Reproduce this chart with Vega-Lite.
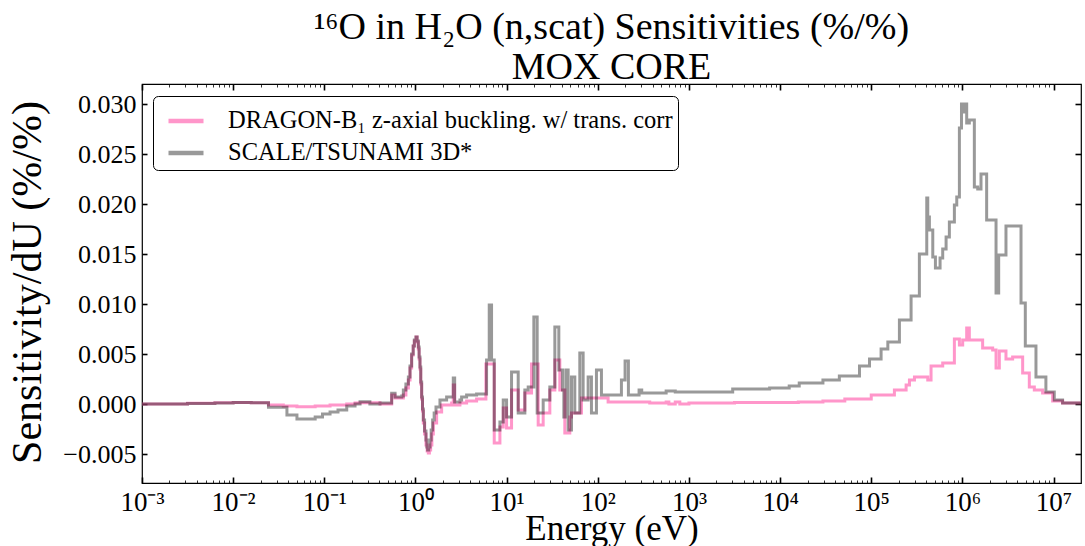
{
  "$schema": "https://vega.github.io/schema/vega-lite/v6.json",
  "width": 939,
  "height": 399,
  "autosize": {"type": "none"},
  "padding": {"left": 142, "top": 84, "right": 4, "bottom": 63},
  "background": "white",
  "config": {
    "view": {"stroke": "black", "strokeWidth": 1.2},
    "font": "Liberation Serif",
    "axis": {"grid": false, "domain": false, "labelColor": "black", "titleColor": "black", "tickColor": "black", "labelFont": "Liberation Serif", "titleFont": "Liberation Serif", "titleFontWeight": "normal"}
  },
  "title": {
    "text": ["¹⁶O in H₂O (n,scat) Sensitivities (%/%)", "MOX CORE"],
    "font": "Liberation Serif",
    "fontSize": 38,
    "fontWeight": "normal",
    "color": "black",
    "lineHeight": 40,
    "anchor": "middle",
    "frame": "group",
    "baseline": "alphabetic",
    "offset": 4,
    "dy": 38
  },
  "data": {"name": "sens"},
  "datasets": {
    "sens": [
      {"series": "DRAGON-B₁ z-axial buckling. w/ trans. corr", "E": 0.001, "S": 0},
      {"series": "DRAGON-B₁ z-axial buckling. w/ trans. corr", "E": 0.00316, "S": 0.00008},
      {"series": "DRAGON-B₁ z-axial buckling. w/ trans. corr", "E": 0.00631, "S": 0.00012},
      {"series": "DRAGON-B₁ z-axial buckling. w/ trans. corr", "E": 0.01, "S": 0.00015},
      {"series": "DRAGON-B₁ z-axial buckling. w/ trans. corr", "E": 0.0158, "S": 0.00012},
      {"series": "DRAGON-B₁ z-axial buckling. w/ trans. corr", "E": 0.0244, "S": -0.0001},
      {"series": "DRAGON-B₁ z-axial buckling. w/ trans. corr", "E": 0.0355, "S": -0.0002},
      {"series": "DRAGON-B₁ z-axial buckling. w/ trans. corr", "E": 0.0501, "S": -0.00027},
      {"series": "DRAGON-B₁ z-axial buckling. w/ trans. corr", "E": 0.0794, "S": -0.0002},
      {"series": "DRAGON-B₁ z-axial buckling. w/ trans. corr", "E": 0.1156, "S": -0.0001},
      {"series": "DRAGON-B₁ z-axial buckling. w/ trans. corr", "E": 0.1762, "S": 0},
      {"series": "DRAGON-B₁ z-axial buckling. w/ trans. corr", "E": 0.2173, "S": 0.0001},
      {"series": "DRAGON-B₁ z-axial buckling. w/ trans. corr", "E": 0.2466, "S": 0.00013},
      {"series": "DRAGON-B₁ z-axial buckling. w/ trans. corr", "E": 0.4083, "S": 0},
      {"series": "DRAGON-B₁ z-axial buckling. w/ trans. corr", "E": 0.5483, "S": 0.0009},
      {"series": "DRAGON-B₁ z-axial buckling. w/ trans. corr", "E": 0.597, "S": 0.0006},
      {"series": "DRAGON-B₁ z-axial buckling. w/ trans. corr", "E": 0.7362, "S": 0.0009},
      {"series": "DRAGON-B₁ z-axial buckling. w/ trans. corr", "E": 0.7852, "S": 0.0016},
      {"series": "DRAGON-B₁ z-axial buckling. w/ trans. corr", "E": 0.8356, "S": 0.0024},
      {"series": "DRAGON-B₁ z-axial buckling. w/ trans. corr", "E": 0.871, "S": 0.0036},
      {"series": "DRAGON-B₁ z-axial buckling. w/ trans. corr", "E": 0.9078, "S": 0.0049},
      {"series": "DRAGON-B₁ z-axial buckling. w/ trans. corr", "E": 0.9441, "S": 0.0058},
      {"series": "DRAGON-B₁ z-axial buckling. w/ trans. corr", "E": 0.9716, "S": 0.0063},
      {"series": "DRAGON-B₁ z-axial buckling. w/ trans. corr", "E": 1.0132, "S": 0.0067},
      {"series": "DRAGON-B₁ z-axial buckling. w/ trans. corr", "E": 1.0423, "S": 0.0062},
      {"series": "DRAGON-B₁ z-axial buckling. w/ trans. corr", "E": 1.075, "S": 0.0055},
      {"series": "DRAGON-B₁ z-axial buckling. w/ trans. corr", "E": 1.0965, "S": 0.0045},
      {"series": "DRAGON-B₁ z-axial buckling. w/ trans. corr", "E": 1.1207, "S": 0.0035},
      {"series": "DRAGON-B₁ z-axial buckling. w/ trans. corr", "E": 1.1429, "S": 0.002},
      {"series": "DRAGON-B₁ z-axial buckling. w/ trans. corr", "E": 1.1693, "S": 0.0005},
      {"series": "DRAGON-B₁ z-axial buckling. w/ trans. corr", "E": 1.194, "S": -0.0007},
      {"series": "DRAGON-B₁ z-axial buckling. w/ trans. corr", "E": 1.2195, "S": -0.0019},
      {"series": "DRAGON-B₁ z-axial buckling. w/ trans. corr", "E": 1.2589, "S": -0.003},
      {"series": "DRAGON-B₁ z-axial buckling. w/ trans. corr", "E": 1.304, "S": -0.0041},
      {"series": "DRAGON-B₁ z-axial buckling. w/ trans. corr", "E": 1.3428, "S": -0.0047},
      {"series": "DRAGON-B₁ z-axial buckling. w/ trans. corr", "E": 1.3833, "S": -0.0049},
      {"series": "DRAGON-B₁ z-axial buckling. w/ trans. corr", "E": 1.4223, "S": -0.0046},
      {"series": "DRAGON-B₁ z-axial buckling. w/ trans. corr", "E": 1.4669, "S": -0.0041},
      {"series": "DRAGON-B₁ z-axial buckling. w/ trans. corr", "E": 1.5136, "S": -0.003},
      {"series": "DRAGON-B₁ z-axial buckling. w/ trans. corr", "E": 1.5697, "S": -0.0019},
      {"series": "DRAGON-B₁ z-axial buckling. w/ trans. corr", "E": 1.7068, "S": -0.0008},
      {"series": "DRAGON-B₁ z-axial buckling. w/ trans. corr", "E": 1.9364, "S": -0.0001},
      {"series": "DRAGON-B₁ z-axial buckling. w/ trans. corr", "E": 2.4923, "S": 0.0001},
      {"series": "DRAGON-B₁ z-axial buckling. w/ trans. corr", "E": 2.599, "S": 0.0019},
      {"series": "DRAGON-B₁ z-axial buckling. w/ trans. corr", "E": 2.6878, "S": -0.0001},
      {"series": "DRAGON-B₁ z-axial buckling. w/ trans. corr", "E": 3.0755, "S": 0.0001},
      {"series": "DRAGON-B₁ z-axial buckling. w/ trans. corr", "E": 3.6389, "S": 0.0003},
      {"series": "DRAGON-B₁ z-axial buckling. w/ trans. corr", "E": 4.6828, "S": 0.0005},
      {"series": "DRAGON-B₁ z-axial buckling. w/ trans. corr", "E": 5.9254, "S": 0.004},
      {"series": "DRAGON-B₁ z-axial buckling. w/ trans. corr", "E": 7.3131, "S": -0.0039},
      {"series": "DRAGON-B₁ z-axial buckling. w/ trans. corr", "E": 8.4403, "S": -0.0023},
      {"series": "DRAGON-B₁ z-axial buckling. w/ trans. corr", "E": 9.1785, "S": -0.0004},
      {"series": "DRAGON-B₁ z-axial buckling. w/ trans. corr", "E": 9.9816, "S": -0.0024},
      {"series": "DRAGON-B₁ z-axial buckling. w/ trans. corr", "E": 11.324, "S": 0.0014},
      {"series": "DRAGON-B₁ z-axial buckling. w/ trans. corr", "E": 13.397, "S": -0.0006},
      {"series": "DRAGON-B₁ z-axial buckling. w/ trans. corr", "E": 15.849, "S": 0.0011},
      {"series": "DRAGON-B₁ z-axial buckling. w/ trans. corr", "E": 18.755, "S": 0.004},
      {"series": "DRAGON-B₁ z-axial buckling. w/ trans. corr", "E": 22.195, "S": -0.0021},
      {"series": "DRAGON-B₁ z-axial buckling. w/ trans. corr", "E": 25.177, "S": -0.0009},
      {"series": "DRAGON-B₁ z-axial buckling. w/ trans. corr", "E": 29.785, "S": 0.0014},
      {"series": "DRAGON-B₁ z-axial buckling. w/ trans. corr", "E": 33.804, "S": 0.0044},
      {"series": "DRAGON-B₁ z-axial buckling. w/ trans. corr", "E": 38.336, "S": 0.0014},
      {"series": "DRAGON-B₁ z-axial buckling. w/ trans. corr", "E": 43.491, "S": -0.0029},
      {"series": "DRAGON-B₁ z-axial buckling. w/ trans. corr", "E": 49.339, "S": -0.0013},
      {"series": "DRAGON-B₁ z-axial buckling. w/ trans. corr", "E": 51.464, "S": -0.0009},
      {"series": "DRAGON-B₁ z-axial buckling. w/ trans. corr", "E": 66.234, "S": 0.0006},
      {"series": "DRAGON-B₁ z-axial buckling. w/ trans. corr", "E": 129.81, "S": 0.0002},
      {"series": "DRAGON-B₁ z-axial buckling. w/ trans. corr", "E": 371.4, "S": 0.0001},
      {"series": "DRAGON-B₁ z-axial buckling. w/ trans. corr", "E": 562.3, "S": 0.0002},
      {"series": "DRAGON-B₁ z-axial buckling. w/ trans. corr", "E": 602.6, "S": 0},
      {"series": "DRAGON-B₁ z-axial buckling. w/ trans. corr", "E": 707.9, "S": 0.0002},
      {"series": "DRAGON-B₁ z-axial buckling. w/ trans. corr", "E": 794.3, "S": 0},
      {"series": "DRAGON-B₁ z-axial buckling. w/ trans. corr", "E": 1000, "S": 0.0001},
      {"series": "DRAGON-B₁ z-axial buckling. w/ trans. corr", "E": 3162, "S": 0.00015},
      {"series": "DRAGON-B₁ z-axial buckling. w/ trans. corr", "E": 15849, "S": 0.0002},
      {"series": "DRAGON-B₁ z-axial buckling. w/ trans. corr", "E": 29512, "S": 0.0003},
      {"series": "DRAGON-B₁ z-axial buckling. w/ trans. corr", "E": 51286, "S": 0.0005},
      {"series": "DRAGON-B₁ z-axial buckling. w/ trans. corr", "E": 100000, "S": 0.0009},
      {"series": "DRAGON-B₁ z-axial buckling. w/ trans. corr", "E": 179473, "S": 0.0014},
      {"series": "DRAGON-B₁ z-axial buckling. w/ trans. corr", "E": 241270, "S": 0.0019},
      {"series": "DRAGON-B₁ z-axial buckling. w/ trans. corr", "E": 262422, "S": 0.0024},
      {"series": "DRAGON-B₁ z-axial buckling. w/ trans. corr", "E": 297852, "S": 0.0027},
      {"series": "DRAGON-B₁ z-axial buckling. w/ trans. corr", "E": 416869, "S": 0.0024},
      {"series": "DRAGON-B₁ z-axial buckling. w/ trans. corr", "E": 452898, "S": 0.0038},
      {"series": "DRAGON-B₁ z-axial buckling. w/ trans. corr", "E": 608135, "S": 0.0041},
      {"series": "DRAGON-B₁ z-axial buckling. w/ trans. corr", "E": 816582, "S": 0.0065},
      {"series": "DRAGON-B₁ z-axial buckling. w/ trans. corr", "E": 926830, "S": 0.0059},
      {"series": "DRAGON-B₁ z-axial buckling. w/ trans. corr", "E": 1006932, "S": 0.0064},
      {"series": "DRAGON-B₁ z-axial buckling. w/ trans. corr", "E": 1114295, "S": 0.0076},
      {"series": "DRAGON-B₁ z-axial buckling. w/ trans. corr", "E": 1191242, "S": 0.0064},
      {"series": "DRAGON-B₁ z-axial buckling. w/ trans. corr", "E": 1667247, "S": 0.0056},
      {"series": "DRAGON-B₁ z-axial buckling. w/ trans. corr", "E": 2147830, "S": 0.0054},
      {"series": "DRAGON-B₁ z-axial buckling. w/ trans. corr", "E": 2338799, "S": 0.0036},
      {"series": "DRAGON-B₁ z-axial buckling. w/ trans. corr", "E": 2540973, "S": 0.0053},
      {"series": "DRAGON-B₁ z-axial buckling. w/ trans. corr", "E": 3006076, "S": 0.0045},
      {"series": "DRAGON-B₁ z-axial buckling. w/ trans. corr", "E": 3556313, "S": 0.0047},
      {"series": "DRAGON-B₁ z-axial buckling. w/ trans. corr", "E": 4581419, "S": 0.0031},
      {"series": "DRAGON-B₁ z-axial buckling. w/ trans. corr", "E": 5420009, "S": 0.0017},
      {"series": "DRAGON-B₁ z-axial buckling. w/ trans. corr", "E": 6151769, "S": 0.0014},
      {"series": "DRAGON-B₁ z-axial buckling. w/ trans. corr", "E": 7585776, "S": 0.0011},
      {"series": "DRAGON-B₁ z-axial buckling. w/ trans. corr", "E": 9772372, "S": 0.0003},
      {"series": "DRAGON-B₁ z-axial buckling. w/ trans. corr", "E": 12560719, "S": 0.0001},
      {"series": "DRAGON-B₁ z-axial buckling. w/ trans. corr", "E": 19900000, "S": 0},
      {"series": "SCALE/TSUNAMI 3D*", "E": 0.001, "S": 0},
      {"series": "SCALE/TSUNAMI 3D*", "E": 0.00316, "S": 0.00005},
      {"series": "SCALE/TSUNAMI 3D*", "E": 0.00631, "S": 0.0001},
      {"series": "SCALE/TSUNAMI 3D*", "E": 0.01, "S": 0.00015},
      {"series": "SCALE/TSUNAMI 3D*", "E": 0.0158, "S": 0.00012},
      {"series": "SCALE/TSUNAMI 3D*", "E": 0.0244, "S": -0.00033},
      {"series": "SCALE/TSUNAMI 3D*", "E": 0.0389, "S": -0.0011},
      {"series": "SCALE/TSUNAMI 3D*", "E": 0.0501, "S": -0.0015},
      {"series": "SCALE/TSUNAMI 3D*", "E": 0.0794, "S": -0.0013},
      {"series": "SCALE/TSUNAMI 3D*", "E": 0.0955, "S": -0.001},
      {"series": "SCALE/TSUNAMI 3D*", "E": 0.1156, "S": -0.0008},
      {"series": "SCALE/TSUNAMI 3D*", "E": 0.1413, "S": -0.0006},
      {"series": "SCALE/TSUNAMI 3D*", "E": 0.1762, "S": -0.0002},
      {"series": "SCALE/TSUNAMI 3D*", "E": 0.2173, "S": 0},
      {"series": "SCALE/TSUNAMI 3D*", "E": 0.2466, "S": 0.00023},
      {"series": "SCALE/TSUNAMI 3D*", "E": 0.3162, "S": 0},
      {"series": "SCALE/TSUNAMI 3D*", "E": 0.4083, "S": 0.0001},
      {"series": "SCALE/TSUNAMI 3D*", "E": 0.5483, "S": 0.00107},
      {"series": "SCALE/TSUNAMI 3D*", "E": 0.597, "S": 0.0007},
      {"series": "SCALE/TSUNAMI 3D*", "E": 0.7063, "S": 0.0008},
      {"series": "SCALE/TSUNAMI 3D*", "E": 0.7362, "S": 0.0014},
      {"series": "SCALE/TSUNAMI 3D*", "E": 0.7852, "S": 0.002},
      {"series": "SCALE/TSUNAMI 3D*", "E": 0.8356, "S": 0.0027},
      {"series": "SCALE/TSUNAMI 3D*", "E": 0.871, "S": 0.0038},
      {"series": "SCALE/TSUNAMI 3D*", "E": 0.9078, "S": 0.005},
      {"series": "SCALE/TSUNAMI 3D*", "E": 0.9441, "S": 0.0058},
      {"series": "SCALE/TSUNAMI 3D*", "E": 0.9716, "S": 0.0064},
      {"series": "SCALE/TSUNAMI 3D*", "E": 1.0132, "S": 0.0067},
      {"series": "SCALE/TSUNAMI 3D*", "E": 1.0423, "S": 0.0063},
      {"series": "SCALE/TSUNAMI 3D*", "E": 1.075, "S": 0.0057},
      {"series": "SCALE/TSUNAMI 3D*", "E": 1.0965, "S": 0.0047},
      {"series": "SCALE/TSUNAMI 3D*", "E": 1.1207, "S": 0.0037},
      {"series": "SCALE/TSUNAMI 3D*", "E": 1.1429, "S": 0.0022},
      {"series": "SCALE/TSUNAMI 3D*", "E": 1.1693, "S": 0.0007},
      {"series": "SCALE/TSUNAMI 3D*", "E": 1.194, "S": -0.0005},
      {"series": "SCALE/TSUNAMI 3D*", "E": 1.2195, "S": -0.0016},
      {"series": "SCALE/TSUNAMI 3D*", "E": 1.2589, "S": -0.0027},
      {"series": "SCALE/TSUNAMI 3D*", "E": 1.304, "S": -0.0036},
      {"series": "SCALE/TSUNAMI 3D*", "E": 1.3335, "S": -0.0043},
      {"series": "SCALE/TSUNAMI 3D*", "E": 1.3602, "S": -0.0046},
      {"series": "SCALE/TSUNAMI 3D*", "E": 1.3964, "S": -0.0043},
      {"series": "SCALE/TSUNAMI 3D*", "E": 1.4425, "S": -0.0036},
      {"series": "SCALE/TSUNAMI 3D*", "E": 1.4859, "S": -0.0026},
      {"series": "SCALE/TSUNAMI 3D*", "E": 1.5431, "S": -0.0016},
      {"series": "SCALE/TSUNAMI 3D*", "E": 1.6032, "S": -0.0009},
      {"series": "SCALE/TSUNAMI 3D*", "E": 1.6792, "S": -0.0003},
      {"series": "SCALE/TSUNAMI 3D*", "E": 1.8566, "S": 0.0004},
      {"series": "SCALE/TSUNAMI 3D*", "E": 2.1968, "S": 0.0007},
      {"series": "SCALE/TSUNAMI 3D*", "E": 2.599, "S": 0.0026},
      {"series": "SCALE/TSUNAMI 3D*", "E": 2.6915, "S": 0.0002},
      {"series": "SCALE/TSUNAMI 3D*", "E": 3.0755, "S": 0.0004},
      {"series": "SCALE/TSUNAMI 3D*", "E": 3.2078, "S": 0.0007},
      {"series": "SCALE/TSUNAMI 3D*", "E": 3.6389, "S": 0.0009},
      {"series": "SCALE/TSUNAMI 3D*", "E": 4.6828, "S": 0.001},
      {"series": "SCALE/TSUNAMI 3D*", "E": 6.0256, "S": 0.0044},
      {"series": "SCALE/TSUNAMI 3D*", "E": 6.445, "S": 0.0099},
      {"series": "SCALE/TSUNAMI 3D*", "E": 6.8345, "S": 0.0044},
      {"series": "SCALE/TSUNAMI 3D*", "E": 7.3131, "S": -0.0026},
      {"series": "SCALE/TSUNAMI 3D*", "E": 8.4403, "S": -0.0018},
      {"series": "SCALE/TSUNAMI 3D*", "E": 9.1785, "S": 0.0004},
      {"series": "SCALE/TSUNAMI 3D*", "E": 9.9816, "S": -0.0013},
      {"series": "SCALE/TSUNAMI 3D*", "E": 11.324, "S": 0.0032},
      {"series": "SCALE/TSUNAMI 3D*", "E": 13.397, "S": -0.0009},
      {"series": "SCALE/TSUNAMI 3D*", "E": 15.849, "S": 0.0014},
      {"series": "SCALE/TSUNAMI 3D*", "E": 17.246, "S": 0.0017},
      {"series": "SCALE/TSUNAMI 3D*", "E": 19.894, "S": 0.0087},
      {"series": "SCALE/TSUNAMI 3D*", "E": 21.637, "S": -0.0009},
      {"series": "SCALE/TSUNAMI 3D*", "E": 25.177, "S": 0.0004},
      {"series": "SCALE/TSUNAMI 3D*", "E": 29.785, "S": 0.0017},
      {"series": "SCALE/TSUNAMI 3D*", "E": 33.804, "S": 0.0077},
      {"series": "SCALE/TSUNAMI 3D*", "E": 37.387, "S": 0.0034},
      {"series": "SCALE/TSUNAMI 3D*", "E": 41.021, "S": 0.0014},
      {"series": "SCALE/TSUNAMI 3D*", "E": 42.423, "S": -0.0013},
      {"series": "SCALE/TSUNAMI 3D*", "E": 44.616, "S": 0.0034},
      {"series": "SCALE/TSUNAMI 3D*", "E": 47.315, "S": -0.0026},
      {"series": "SCALE/TSUNAMI 3D*", "E": 51.464, "S": 0.0027},
      {"series": "SCALE/TSUNAMI 3D*", "E": 55.976, "S": -0.0009},
      {"series": "SCALE/TSUNAMI 3D*", "E": 63.5, "S": 0.0051},
      {"series": "SCALE/TSUNAMI 3D*", "E": 69.072, "S": 0.0004},
      {"series": "SCALE/TSUNAMI 3D*", "E": 78.38, "S": 0.0027},
      {"series": "SCALE/TSUNAMI 3D*", "E": 85.23, "S": -0.0009},
      {"series": "SCALE/TSUNAMI 3D*", "E": 96.69, "S": 0.0034},
      {"series": "SCALE/TSUNAMI 3D*", "E": 109.7, "S": 0.0009},
      {"series": "SCALE/TSUNAMI 3D*", "E": 181.7, "S": 0.0024},
      {"series": "SCALE/TSUNAMI 3D*", "E": 199.3, "S": 0.0043},
      {"series": "SCALE/TSUNAMI 3D*", "E": 216.8, "S": 0.0009},
      {"series": "SCALE/TSUNAMI 3D*", "E": 283.8, "S": 0.0014},
      {"series": "SCALE/TSUNAMI 3D*", "E": 303.5, "S": 0.0011},
      {"series": "SCALE/TSUNAMI 3D*", "E": 562.3, "S": 0.0013},
      {"series": "SCALE/TSUNAMI 3D*", "E": 707.9, "S": 0.0012},
      {"series": "SCALE/TSUNAMI 3D*", "E": 3020, "S": 0.0015},
      {"series": "SCALE/TSUNAMI 3D*", "E": 7674, "S": 0.0016},
      {"series": "SCALE/TSUNAMI 3D*", "E": 12589, "S": 0.0018},
      {"series": "SCALE/TSUNAMI 3D*", "E": 16218, "S": 0.0021},
      {"series": "SCALE/TSUNAMI 3D*", "E": 29512, "S": 0.0024},
      {"series": "SCALE/TSUNAMI 3D*", "E": 44668, "S": 0.0028},
      {"series": "SCALE/TSUNAMI 3D*", "E": 74302, "S": 0.0038},
      {"series": "SCALE/TSUNAMI 3D*", "E": 95719, "S": 0.0045},
      {"series": "SCALE/TSUNAMI 3D*", "E": 128233, "S": 0.0055},
      {"series": "SCALE/TSUNAMI 3D*", "E": 152055, "S": 0.0062},
      {"series": "SCALE/TSUNAMI 3D*", "E": 203704, "S": 0.0084},
      {"series": "SCALE/TSUNAMI 3D*", "E": 273527, "S": 0.0108},
      {"series": "SCALE/TSUNAMI 3D*", "E": 337287, "S": 0.015},
      {"series": "SCALE/TSUNAMI 3D*", "E": 406443, "S": 0.0206},
      {"series": "SCALE/TSUNAMI 3D*", "E": 416869, "S": 0.0187},
      {"series": "SCALE/TSUNAMI 3D*", "E": 434510, "S": 0.0174},
      {"series": "SCALE/TSUNAMI 3D*", "E": 473151, "S": 0.0147},
      {"series": "SCALE/TSUNAMI 3D*", "E": 505825, "S": 0.0136},
      {"series": "SCALE/TSUNAMI 3D*", "E": 568853, "S": 0.0146},
      {"series": "SCALE/TSUNAMI 3D*", "E": 608135, "S": 0.0155},
      {"series": "SCALE/TSUNAMI 3D*", "E": 662217, "S": 0.0167},
      {"series": "SCALE/TSUNAMI 3D*", "E": 719449, "S": 0.0182},
      {"series": "SCALE/TSUNAMI 3D*", "E": 816582, "S": 0.0199},
      {"series": "SCALE/TSUNAMI 3D*", "E": 866962, "S": 0.0207},
      {"series": "SCALE/TSUNAMI 3D*", "E": 926830, "S": 0.0276},
      {"series": "SCALE/TSUNAMI 3D*", "E": 977237, "S": 0.03},
      {"series": "SCALE/TSUNAMI 3D*", "E": 1023293, "S": 0.0292},
      {"series": "SCALE/TSUNAMI 3D*", "E": 1071519, "S": 0.03},
      {"series": "SCALE/TSUNAMI 3D*", "E": 1114295, "S": 0.0281},
      {"series": "SCALE/TSUNAMI 3D*", "E": 1191242, "S": 0.0284},
      {"series": "SCALE/TSUNAMI 3D*", "E": 1352073, "S": 0.0217},
      {"series": "SCALE/TSUNAMI 3D*", "E": 1472313, "S": 0.0215},
      {"series": "SCALE/TSUNAMI 3D*", "E": 1599558, "S": 0.023},
      {"series": "SCALE/TSUNAMI 3D*", "E": 1845015, "S": 0.0184},
      {"series": "SCALE/TSUNAMI 3D*", "E": 2338799, "S": 0.0111},
      {"series": "SCALE/TSUNAMI 3D*", "E": 2500345, "S": 0.0149},
      {"series": "SCALE/TSUNAMI 3D*", "E": 3006076, "S": 0.0178},
      {"series": "SCALE/TSUNAMI 3D*", "E": 4395416, "S": 0.0101},
      {"series": "SCALE/TSUNAMI 3D*", "E": 4897788, "S": 0.0058},
      {"series": "SCALE/TSUNAMI 3D*", "E": 6412095, "S": 0.0027},
      {"series": "SCALE/TSUNAMI 3D*", "E": 8241381, "S": 0.0012},
      {"series": "SCALE/TSUNAMI 3D*", "E": 10185914, "S": 0.0004},
      {"series": "SCALE/TSUNAMI 3D*", "E": 12560719, "S": 0.0001},
      {"series": "SCALE/TSUNAMI 3D*", "E": 19900000, "S": 0}
    ]
  },
  "layer": [
    {
      "mark": {"type": "line", "interpolate": "step-after", "strokeWidth": 3, "clip": true},
      "encoding": {
        "x": {
          "field": "E", "type": "quantitative",
          "scale": {"type": "log", "domain": [0.001, 20000000], "nice": false},
          "axis": {
            "orient": "bottom",
            "values": [0.001, 0.01, 0.1, 1, 10, 100, 1000, 10000, 100000, 1000000, 10000000],
            "labelExpr": "['10⁻³','10⁻²','10⁻¹','10⁰','10¹','10²','10³','10⁴','10⁵','10⁶','10⁷'][round(log(datum.value)/LN10)+3]",
            "ticks": false,
            "labelFontSize": 27,
            "labelPadding": 6,
            "labelFlush": false,
            "labelOverlap": false,
            "labelBound": false,
            "title": "Energy (eV)",
            "titleFontSize": 35,
            "titleBaseline": "alphabetic",
            "titleY": 56
          }
        },
        "y": {
          "field": "S", "type": "quantitative",
          "scale": {"domain": [-0.0079, 0.032], "nice": false, "zero": false},
          "axis": {
            "orient": "left",
            "values": [-0.005, 0, 0.005, 0.01, 0.015, 0.02, 0.025, 0.03],
            "format": ".3f",
            "ticks": false,
            "labelFontSize": 26,
            "labelPadding": 6,
            "labelOverlap": false,
            "labelFlush": false,
            "title": "Sensitivity/dU (%/%)",
            "titleFontSize": 42,
            "titleBaseline": "alphabetic",
            "titleX": -102,
            "titleY": 198,
            "titleAngle": 270
          }
        },
        "color": {
          "field": "series", "type": "nominal",
          "scale": {
            "domain": ["DRAGON-B₁ z-axial buckling. w/ trans. corr", "SCALE/TSUNAMI 3D*"],
            "range": ["rgba(255,105,180,0.7)", "rgba(0,0,0,0.4)"]
          },
          "legend": {
            "orient": "none",
            "legendX": 11,
            "legendY": 12,
            "title": null,
            "symbolType": "stroke",
            "symbolSize": 1225,
            "symbolStrokeWidth": 4.5,
            "symbolOffset": 8,
            "labelFont": "Liberation Serif",
            "labelFontSize": 24.5,
            "labelColor": "black",
            "labelLimit": 1000,
            "labelOffset": 22,
            "fillColor": "white",
            "strokeColor": "black",
            "cornerRadius": 5,
            "padding": 5,
            "rowPadding": -1
          }
        }
      }
    },
    {
      "mark": {"type": "point", "opacity": 0},
      "encoding": {
        "x": {"field": "E", "type": "quantitative", "axis": {"orient": "bottom", "values": [0.001, 0.01, 0.1, 1, 10, 100, 1000, 10000, 100000, 1000000, 10000000], "labels": false, "ticks": true, "tickSize": 6, "tickWidth": 1.6, "offset": -6, "title": null}},
        "y": {"field": "S", "type": "quantitative", "axis": {"orient": "left", "values": [-0.005, 0, 0.005, 0.01, 0.015, 0.02, 0.025, 0.03], "labels": false, "ticks": true, "tickSize": 5, "tickWidth": 1.6, "offset": -5, "title": null}}
      }
    },
    {
      "mark": {"type": "point", "opacity": 0},
      "encoding": {
        "x": {"field": "E", "type": "quantitative", "axis": {"orient": "bottom", "values": [0.002,0.003,0.004,0.005,0.006,0.007,0.008,0.009,0.02,0.03,0.04,0.05,0.06,0.07,0.08,0.09,0.2,0.3,0.4,0.5,0.6,0.7,0.8,0.9,2,3,4,5,6,7,8,9,20,30,40,50,60,70,80,90,200,300,400,500,600,700,800,900,2000,3000,4000,5000,6000,7000,8000,9000,20000,30000,40000,50000,60000,70000,80000,90000,200000,300000,400000,500000,600000,700000,800000,900000,2000000,3000000,4000000,5000000,6000000,7000000,8000000,9000000], "labels": false, "ticks": true, "tickSize": 3, "tickWidth": 0.8, "offset": -3, "title": null}},
        "y": {"field": "S", "type": "quantitative", "axis": {"orient": "right", "values": [-0.005, 0, 0.005, 0.01, 0.015, 0.02, 0.025, 0.03], "labels": false, "ticks": true, "tickSize": 6, "tickWidth": 1.6, "offset": -6, "title": null}}
      }
    },
    {
      "mark": {"type": "point", "opacity": 0},
      "encoding": {
        "x": {"field": "E", "type": "quantitative", "axis": {"orient": "top", "values": [0.001, 0.01, 0.1, 1, 10, 100, 1000, 10000, 100000, 1000000, 10000000], "labels": false, "ticks": true, "tickSize": 6, "tickWidth": 1.6, "offset": -6, "title": null}},
        "y": {"field": "S", "type": "quantitative", "axis": null}
      }
    },
    {
      "mark": {"type": "point", "opacity": 0},
      "encoding": {
        "x": {"field": "E", "type": "quantitative", "axis": {"orient": "top", "values": [0.002,0.003,0.004,0.005,0.006,0.007,0.008,0.009,0.02,0.03,0.04,0.05,0.06,0.07,0.08,0.09,0.2,0.3,0.4,0.5,0.6,0.7,0.8,0.9,2,3,4,5,6,7,8,9,20,30,40,50,60,70,80,90,200,300,400,500,600,700,800,900,2000,3000,4000,5000,6000,7000,8000,9000,20000,30000,40000,50000,60000,70000,80000,90000,200000,300000,400000,500000,600000,700000,800000,900000,2000000,3000000,4000000,5000000,6000000,7000000,8000000,9000000], "labels": false, "ticks": true, "tickSize": 3, "tickWidth": 0.8, "offset": -3, "title": null}},
        "y": {"field": "S", "type": "quantitative", "axis": null}
      }
    }
  ],
  "resolve": {"axis": {"x": "independent", "y": "independent"}}
}
